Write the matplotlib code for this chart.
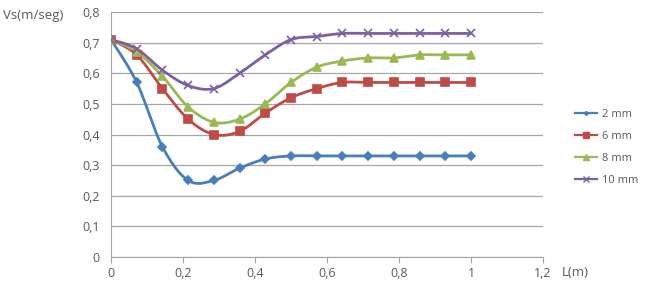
import numpy as np
import matplotlib
matplotlib.use("Agg")
import matplotlib.pyplot as plt
from matplotlib.ticker import FuncFormatter

# datos
L = [i / 14 for i in range(15)]
v_2mm = [0.71, 0.57, 0.36, 0.25, 0.25, 0.29, 0.32, 0.33, 0.33, 0.33, 0.33, 0.33, 0.33, 0.33, 0.33]
v_6mm = [0.71, 0.66, 0.55, 0.45, 0.40, 0.41, 0.47, 0.52, 0.55, 0.57, 0.57, 0.57, 0.57, 0.57, 0.57]
v_8mm = [0.71, 0.67, 0.59, 0.49, 0.44, 0.45, 0.50, 0.57, 0.62, 0.64, 0.65, 0.65, 0.66, 0.66, 0.66]
v_10mm = [0.71, 0.68, 0.61, 0.56, 0.55, 0.60, 0.66, 0.71, 0.72, 0.73, 0.73, 0.73, 0.73, 0.73, 0.73]
labels = ["2 mm", "6 mm", "8 mm", "10 mm"]


def smooth(x, y, n=12):
    # curva Catmull-Rom para imitar las lineas suavizadas de Excel
    x = np.asarray(x); y = np.asarray(y)
    px = np.concatenate([[x[0]], x, [x[-1]]])
    py = np.concatenate([[y[0]], y, [y[-1]]])
    xs, ys = [], []
    t = np.linspace(0, 1, n, endpoint=False)
    for i in range(1, len(px) - 2):
        for p, out in ((px, xs), (py, ys)):
            p0, p1, p2, p3 = p[i - 1], p[i], p[i + 1], p[i + 2]
            out.extend(0.5 * ((2 * p1) + (-p0 + p2) * t
                              + (2 * p0 - 5 * p1 + 4 * p2 - p3) * t ** 2
                              + (-p0 + 3 * p1 - 3 * p2 + p3) * t ** 3))
    xs.append(x[-1]); ys.append(y[-1])
    return xs, ys


plt.rcParams['font.family'] = ['Open Sans', 'DejaVu Sans']
txt = '#595959'

fig = plt.figure(figsize=(6.5, 2.86), dpi=100)
ax = fig.add_axes([111 / 650, 29 / 286, 432 / 650, 245 / 286])

series = [v_2mm, v_6mm, v_8mm, v_10mm]
colors = ['#4A7EBB', '#BE4B48', '#98B954', '#7D60A0']
markers = ['D', 's', '^', 'x']
msizes = [4, 6, 6, 6]
for vals, c, m, ms, lab in zip(series, colors, markers, msizes, labels):
    sx, sy = smooth(L, vals)
    ax.plot(sx, sy, color=c, lw=2, zorder=3)
    ax.plot(L, vals, ls='none', marker=m, ms=ms, color=c, mew=1.2, zorder=4)
    ax.plot([], [], color=c, lw=1.6, marker=m, ms=ms - 2, label=lab)

ax.set_xlim(0, 1.2)
ax.set_ylim(0, 0.8)
ax.set_xticks(np.arange(0, 1.21, 0.2))
ax.set_yticks(np.arange(0, 0.81, 0.1))
fmt = FuncFormatter(lambda v, p: ('%g' % round(v, 2)).replace('.', ','))
ax.xaxis.set_major_formatter(fmt)
ax.yaxis.set_major_formatter(fmt)
ax.grid(axis='y', color='#A6A6A6', lw=0.9)
ax.set_axisbelow(True)
for s in ['top', 'right']:
    ax.spines[s].set_visible(False)
for s in ['left', 'bottom']:
    ax.spines[s].set_color('#A6A6A6')
ax.tick_params(axis='both', colors='#A6A6A6', labelcolor=txt, labelsize=9, length=4)
ax.tick_params(axis='y', length=0, pad=8)

fig.text(3 / 650, 1 - 16 / 286, 'Vs(m/seg)', fontsize=9.5, color=txt, va='center')
fig.text(562 / 650, 1 - 272 / 286, 'L(m)', fontsize=9.5, color=txt, va='center')

leg = ax.legend(loc='upper left', bbox_to_anchor=(565 / 650, 1 - 99 / 286),
                bbox_transform=fig.transFigure, frameon=False, fontsize=8,
                handlelength=2.0, handletextpad=0.4, labelspacing=1.0)
for t in leg.get_texts():
    t.set_color(txt)

fig.savefig('out.png', dpi=100)
